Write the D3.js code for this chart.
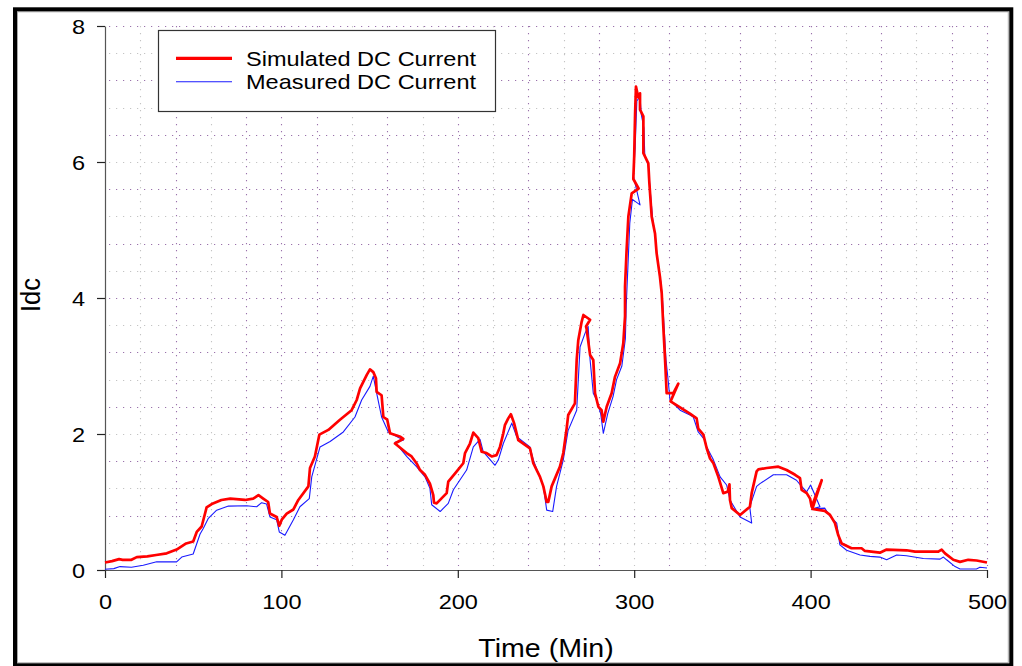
<!DOCTYPE html>
<html>
<head>
<meta charset="utf-8">
<script src="https://cdn.jsdelivr.net/npm/d3@7"></script>
<style>
  html, body { margin: 0; padding: 0; background: #fff; }
  svg { display: block; }
  text { font-family: Arial, "Liberation Sans", sans-serif; fill: #000; }
</style>
</head>
<body>
<svg id="chart" width="1022" height="666"></svg>
<script>
// Simulated DC current (time in minutes, current in A); a few samples step back in time
const simTime = [0, 4, 8, 10, 15, 18, 24, 29, 35, 40.6, 46, 50, 52, 54.8, 57.6, 60.5, 66, 71, 79.4, 84, 87, 89.7, 92.5, 93.5, 97.3, 98.8, 100.2, 103, 106.8, 109.6, 115.3, 116.2, 119, 121.5, 126.6, 133.2, 139.8, 142.7, 144.6, 148.4, 150.2, 152.1, 153.6, 154, 156.8, 157.8, 160, 161.6, 167.5, 169.1, 164.4, 171, 173.8, 176.6, 178.6, 181.4, 184.2, 186.1, 186.5, 188, 193.7, 194.6, 199.4, 203.1, 204.1, 206.9, 208.8, 211.6, 213.5, 216.3, 219.2, 222, 223.9, 225.8, 226.7, 228.6, 230.1, 231.9, 234.3, 240.9, 242.8, 246.6, 248.5, 250.4, 251.3, 253.2, 257.9, 259.8, 261.7, 262.6, 266.4, 267.4, 268.3, 270.2, 271.2, 275, 272.7, 273, 275, 276.8, 277.8, 279.7, 281.5, 282.5, 284.4, 287.2, 289.1, 292, 293.8, 294.8, 294.8, 295.7, 296.7, 298.6, 302.5, 299.5, 300, 300.5, 301, 302.3, 303.3, 303.3, 305.2, 305.2, 308, 308.6, 309.9, 311.8, 312.7, 314.6, 315.6, 316.5, 317.5, 318.4, 322.2, 325, 320.6, 331.6, 335.4, 336.3, 339.2, 341.1, 343, 344.9, 347.7, 350.5, 353, 354, 354.3, 355.3, 360, 365.6, 366.6, 369.4, 370.4, 375.1, 381.7, 386.4, 391.2, 394, 394.9, 397.8, 399.7, 400.6, 406.3, 401, 405.3, 408, 411, 413.8, 415.7, 417.6, 423.2, 428.9, 430.8, 439.3, 443.1, 454.4, 459.2, 472.4, 474.3, 476.2, 480.9, 484.7, 489.4, 494.1, 500];
const simIdc = [0.11, 0.13, 0.16, 0.15, 0.15, 0.19, 0.20, 0.22, 0.245, 0.30, 0.39, 0.42, 0.56, 0.64, 0.92, 0.97, 1.03, 1.05, 1.03, 1.05, 1.10, 1.05, 1.00, 0.83, 0.78, 0.65, 0.74, 0.83, 0.89, 1.03, 1.23, 1.50, 1.67, 1.99, 2.06, 2.21, 2.35, 2.50, 2.67, 2.87, 2.95, 2.91, 2.82, 2.62, 2.57, 2.25, 2.21, 2.01, 1.96, 1.93, 1.86, 1.72, 1.67, 1.57, 1.47, 1.40, 1.27, 1.10, 0.99, 0.98, 1.13, 1.30, 1.45, 1.57, 1.72, 1.86, 2.02, 1.94, 1.74, 1.72, 1.67, 1.69, 1.81, 2.01, 2.13, 2.23, 2.29, 2.16, 1.91, 1.79, 1.57, 1.37, 1.23, 1.00, 1.00, 1.23, 1.52, 1.72, 2.08, 2.28, 2.45, 3.09, 3.38, 3.65, 3.75, 3.68, 3.58, 3.55, 3.16, 3.09, 2.60, 2.40, 2.35, 2.18, 2.40, 2.60, 2.84, 3.04, 3.33, 3.73, 4.17, 4.71, 5.20, 5.54, 5.61, 5.75, 6.08, 6.70, 7.11, 6.95, 7.01, 6.77, 6.67, 6.13, 5.98, 5.69, 5.20, 4.95, 4.66, 4.31, 4.07, 3.58, 3.09, 2.60, 2.60, 2.74, 2.48, 2.30, 2.23, 2.08, 1.99, 1.79, 1.64, 1.57, 1.37, 1.13, 1.15, 1.26, 1.03, 0.91, 0.81, 0.93, 1.13, 1.45, 1.48, 1.50, 1.52, 1.47, 1.40, 1.35, 1.18, 1.13, 1.05, 0.93, 1.32, 0.90, 0.88, 0.87, 0.81, 0.69, 0.51, 0.39, 0.32, 0.32, 0.28, 0.255, 0.30, 0.29, 0.27, 0.27, 0.30, 0.245, 0.15, 0.12, 0.15, 0.14, 0.11];

// Measured DC current
const measTime = [0, 5, 8.5, 15, 21.7, 29.3, 40.6, 43.5, 50, 53.9, 55.7, 58.6, 63.3, 70, 80.3, 86, 88.8, 91.6, 93.5, 97.3, 98.8, 102, 106.8, 110.5, 115.8, 117.2, 121.9, 127.6, 135.1, 141.7, 145.5, 150.2, 152.1, 154, 156.8, 160.6, 169.1, 164.4, 171, 176.6, 181.4, 184.2, 185.2, 190, 194.6, 197.5, 205, 208.8, 212.6, 214.4, 221.1, 223, 225.8, 230.6, 233.4, 240.9, 242.8, 248.5, 250.4, 253.8, 256, 259.8, 262.5, 267.4, 268.3, 269.3, 272.1, 273.9, 275, 276.8, 278.7, 281, 282.5, 285, 288, 290, 293, 295, 295.5, 296.5, 297.5, 299, 303.3, 299.5, 300.5, 301.5, 303.3, 304, 305.5, 306, 308, 309, 310.5, 312, 313, 315, 316, 317, 318, 319.4, 320.3, 326, 331.6, 333.5, 336.3, 340.1, 341.1, 344.9, 348.7, 352.4, 354.3, 360, 366.6, 365.5, 369.4, 371.3, 378.9, 386.4, 392, 394.9, 397.8, 400, 405.3, 401, 408, 411, 414.8, 416.6, 420.4, 428, 433.7, 439.3, 443.1, 448.8, 454.4, 463.9, 473.4, 475.3, 477.1, 481.9, 484.7, 494, 496, 500];
const measIdc = [0.01, 0.02, 0.05, 0.04, 0.07, 0.12, 0.12, 0.19, 0.235, 0.53, 0.61, 0.76, 0.88, 0.94, 0.945, 0.93, 0.99, 0.97, 0.78, 0.74, 0.56, 0.51, 0.74, 0.93, 1.05, 1.37, 1.81, 1.89, 2.03, 2.25, 2.50, 2.70, 2.85, 2.60, 2.25, 2.03, 1.91, 1.88, 1.67, 1.52, 1.37, 1.20, 0.96, 0.86, 0.98, 1.18, 1.47, 1.81, 1.92, 1.74, 1.54, 1.62, 1.86, 2.16, 1.96, 1.81, 1.62, 1.23, 0.88, 0.86, 1.23, 1.62, 2.05, 2.35, 2.79, 3.28, 3.48, 3.58, 3.09, 2.60, 2.50, 2.30, 2.01, 2.30, 2.55, 2.80, 3.00, 3.40, 3.90, 4.50, 5.10, 5.45, 5.37, 5.80, 6.20, 6.90, 6.96, 6.70, 6.50, 6.10, 5.95, 5.60, 5.15, 4.90, 4.60, 4.25, 4.00, 3.55, 3.10, 2.75, 2.50, 2.35, 2.28, 2.25, 2.03, 1.91, 1.81, 1.62, 1.37, 1.25, 1.03, 0.78, 0.69, 0.93, 1.23, 1.27, 1.40, 1.40, 1.32, 1.23, 1.15, 1.25, 0.93, 0.90, 0.91, 0.79, 0.69, 0.37, 0.29, 0.22, 0.20, 0.19, 0.15, 0.22, 0.21, 0.17, 0.16, 0.19, 0.15, 0.05, 0.015, 0.015, 0.04, 0.03];

const xTicks = [0, 100, 200, 300, 400, 500];
const yTicks = [0, 2, 4, 6, 8];
const seriesNames = ["Simulated DC Current", "Measured DC Current"];
const axisTitles = { x: "Time (Min)", y: "Idc" };

const svg = d3.select("#chart");
const W = 1022, H = 666;
const plot = { left: 105, right: 987, top: 26, bottom: 570 };
const x = d3.scaleLinear().domain([0, 500]).range([plot.left, plot.right]);
const y = d3.scaleLinear().domain([0, 8]).range([plot.bottom, plot.top]);

// Glyphs are drawn slightly wide
const WIDEN = 1.12;
function widen(sel) {
  sel.each(function () {
    const w = this.getComputedTextLength();
    d3.select(this).attr("textLength", w * WIDEN).attr("lengthAdjust", "spacingAndGlyphs");
  });
}

// Outer frame
svg.append("rect").attr("x", 17.5).attr("y", 11.8).attr("width", 990.8).attr("height", 651)
  .attr("fill", "none").attr("stroke", "#a8a8a8").attr("stroke-width", 1);
svg.append("rect").attr("x", 15).attr("y", 9.3).attr("width", 996.3).attr("height", 656)
  .attr("fill", "none").attr("stroke", "#000").attr("stroke-width", 4);

// Dotted grid
const grid = svg.append("g");
const vGrid = d3.range(20, 501, 20);
const hGrid = d3.range(1, 21).map(i => +(i * 0.4).toFixed(1));
grid.selectAll("line.v").data(vGrid).join("line")
  .attr("x1", d => Math.round(x(d)) + 0.5).attr("x2", d => Math.round(x(d)) + 0.5)
  .attr("y1", plot.top).attr("y2", plot.bottom - 4)
  .attr("stroke", d => d % 40 === 0 || d === 100 || d === 500 ? "#9a72ac" : "#c4c4c4")
  .attr("stroke-width", 1.1)
  .attr("stroke-dasharray", "1.2,5.8");
grid.selectAll("line.h").data(hGrid).join("line")
  .attr("x1", plot.left + 4).attr("x2", plot.right + 1)
  .attr("y1", d => Math.round(y(d)) + 0.5).attr("y2", d => Math.round(y(d)) + 0.5)
  .attr("stroke", (d, i) => (i % 2 === 1) ? "#9a72ac" : "#c4c4c4")
  .attr("stroke-width", 1.1)
  .attr("stroke-dasharray", "1.2,5.8");

// Axes
const xAxis = svg.append("g").attr("transform", `translate(0,${plot.bottom})`)
  .call(d3.axisBottom(x).tickValues(xTicks).tickFormat(d3.format("d")).tickSize(8).tickSizeOuter(0).tickPadding(16));
const yAxis = svg.append("g").attr("transform", `translate(${plot.left},0)`)
  .call(d3.axisLeft(y).tickValues(yTicks).tickFormat(d3.format("d")).tickSize(8).tickSizeOuter(0).tickPadding(12));
[xAxis, yAxis].forEach(a => {
  a.select(".domain").attr("stroke", "#555").attr("stroke-width", 1.2);
  a.selectAll(".tick line").attr("stroke", "#222").attr("stroke-width", 1.2);
  a.selectAll(".tick text").attr("font-size", 21).attr("fill", "#000")
    .attr("font-family", "Arial, 'Liberation Sans', sans-serif");
});
yAxis.selectAll(".tick text").attr("dy", "0.37em");
widen(xAxis.selectAll(".tick text"));
widen(yAxis.selectAll(".tick text"));

// Series lines
const line = d3.line().x(d => x(d[0])).y(d => y(d[1]));
const meas = measTime.map((t, i) => [t, measIdc[i]]);
const sim = simTime.map((t, i) => [t, simIdc[i]]);
svg.append("path").datum(meas).attr("d", line)
  .attr("fill", "none").attr("stroke", "#1a1aff").attr("stroke-width", 1.1).attr("stroke-linejoin", "round");
svg.append("path").datum(sim).attr("d", line)
  .attr("fill", "none").attr("stroke", "#ff0000").attr("stroke-width", 2.7).attr("stroke-linejoin", "round");

// Axis titles
widen(svg.append("text").attr("x", 546).attr("y", 656.5).attr("text-anchor", "middle")
  .attr("font-size", 25.5).text(axisTitles.x));
svg.append("text").attr("text-anchor", "middle").attr("font-size", 25.5)
  .attr("transform", `translate(40,295) scale(${WIDEN},1) rotate(-90)`).text(axisTitles.y);

// Legend
const lg = svg.append("g");
lg.append("rect").attr("x", 158.5).attr("y", 30.5).attr("width", 337).attr("height", 81)
  .attr("fill", "#fff").attr("stroke", "#333").attr("stroke-width", 1.2);
const legendColors = ["#ff0000", "#1a1aff"];
const legendWidths = [3.2, 1.1];
seriesNames.forEach((name, i) => {
  const cy = 58.3 + i * 23.5;
  lg.append("line").attr("x1", 176).attr("x2", 232).attr("y1", cy).attr("y2", cy)
    .attr("stroke", legendColors[i]).attr("stroke-width", legendWidths[i]);
  widen(lg.append("text").attr("x", 246).attr("y", cy + 7.4).attr("font-size", 21).text(name));
});
</script>
</body>
</html>
